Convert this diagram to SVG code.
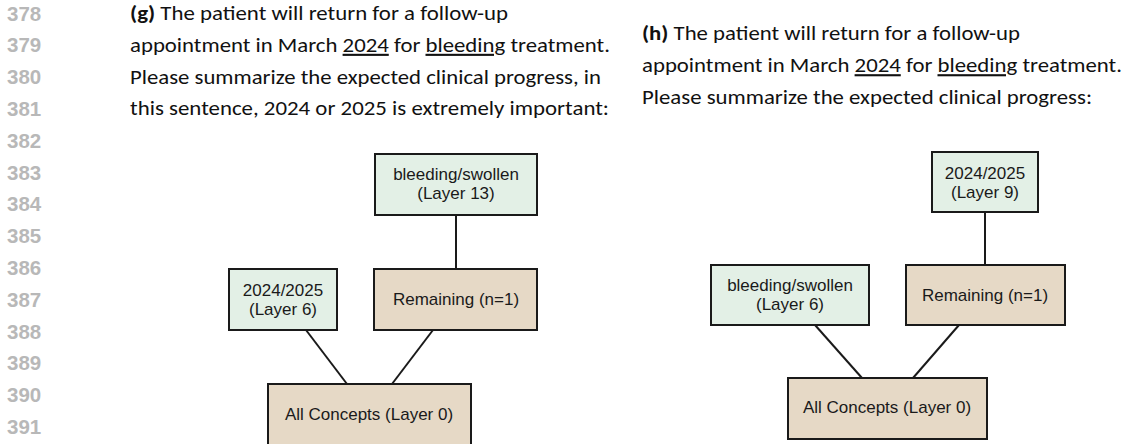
<svg xmlns="http://www.w3.org/2000/svg" width="1132" height="444" viewBox="0 0 1132 444">
  <style>
    .ln { font-family: "Liberation Sans", Arial, sans-serif; font-size: 20.5px; font-weight: bold; fill: #b8b8b8; }
    .cap { font-family: Carlito, Lato, "Open Sans", sans-serif; font-size: 21px; fill: #111; }
    .cap .b { font-weight: bold; }
    .cap .u { text-decoration: underline; }
    .box { stroke: #1a1a1a; stroke-width: 2; }
    .green { fill: #e3f0e6; }
    .tan { fill: #e6d9c6; }
    .lbl { font-family: "Liberation Sans", Arial, sans-serif; font-size: 17px; fill: #1a1a1a; text-anchor: middle; }
    .edge { stroke: #1a1a1a; stroke-width: 2; fill: none; }
  </style>

  <!-- line numbers in the margin -->
  <g id="line-numbers" class="ln">
    <text x="7" y="20.6">378</text>
    <text x="7" y="52.4">379</text>
    <text x="7" y="84.2">380</text>
    <text x="7" y="116">381</text>
    <text x="7" y="147.8">382</text>
    <text x="7" y="179.6">383</text>
    <text x="7" y="211.4">384</text>
    <text x="7" y="243.2">385</text>
    <text x="7" y="275">386</text>
    <text x="7" y="306.8">387</text>
    <text x="7" y="338.6">388</text>
    <text x="7" y="370.4">389</text>
    <text x="7" y="402.2">390</text>
    <text x="7" y="434">391</text>
  </g>

  <!-- panel (g) prompt -->
  <g id="caption-g" class="cap">
    <text x="130" y="20" textLength="378" lengthAdjust="spacingAndGlyphs"><tspan class="b">(g)</tspan> The patient will return for a follow-up</text>
    <text x="130" y="51.8" textLength="480" lengthAdjust="spacingAndGlyphs">appointment in March <tspan class="u">2024</tspan> for <tspan class="u">bleeding</tspan> treatment.</text>
    <text x="130" y="83.6" textLength="471" lengthAdjust="spacingAndGlyphs">Please summarize the expected clinical progress, in</text>
    <text x="130" y="115.4" textLength="479" lengthAdjust="spacingAndGlyphs">this sentence, 2024 or 2025 is extremely important:</text>
  </g>

  <!-- panel (h) prompt -->
  <g id="caption-h" class="cap">
    <text x="642" y="40.4" textLength="378" lengthAdjust="spacingAndGlyphs"><tspan class="b">(h)</tspan> The patient will return for a follow-up</text>
    <text x="642" y="72.2" textLength="480" lengthAdjust="spacingAndGlyphs">appointment in March <tspan class="u">2024</tspan> for <tspan class="u">bleeding</tspan> treatment.</text>
    <text x="642" y="104" textLength="450" lengthAdjust="spacingAndGlyphs">Please summarize the expected clinical progress:</text>
  </g>

  <!-- tree edges -->
  <g id="connectors">
    <line class="edge" x1="456" y1="215" x2="456" y2="269"/>
    <line class="edge" x1="306" y1="330" x2="347" y2="384"/>
    <line class="edge" x1="433" y1="330" x2="392" y2="384"/>
    <line class="edge" x1="985" y1="212" x2="985" y2="265"/>
    <line class="edge" x1="815" y1="325" x2="862" y2="378"/>
    <line class="edge" x1="959" y1="325" x2="913" y2="378"/>
  </g>

  <!-- panel (g) tree -->
  <g id="g-bleeding">
    <rect class="box green" x="375" y="154" width="162" height="61"/>
    <text class="lbl" x="456" y="179.5">bleeding/swollen</text>
    <text class="lbl" x="456" y="198.5">(Layer 13)</text>
  </g>
  <g id="g-years">
    <rect class="box green" x="229" y="269" width="108" height="61"/>
    <text class="lbl" x="283" y="295.5">2024/2025</text>
    <text class="lbl" x="283" y="314.5">(Layer 6)</text>
  </g>
  <g id="g-remaining">
    <rect class="box tan" x="374" y="269" width="163" height="61"/>
    <text class="lbl" x="456" y="304.5">Remaining (n=1)</text>
  </g>
  <g id="g-all">
    <rect class="box tan" x="268" y="384" width="203" height="61"/>
    <text class="lbl" x="369" y="419.5">All Concepts (Layer 0)</text>
  </g>

  <!-- panel (h) tree -->
  <g id="h-years">
    <rect class="box green" x="932" y="152" width="106" height="60"/>
    <text class="lbl" x="985" y="178.5">2024/2025</text>
    <text class="lbl" x="985" y="197.5">(Layer 9)</text>
  </g>
  <g id="h-bleeding">
    <rect class="box green" x="711" y="265" width="158" height="60"/>
    <text class="lbl" x="790" y="291">bleeding/swollen</text>
    <text class="lbl" x="790" y="310">(Layer 6)</text>
  </g>
  <g id="h-remaining">
    <rect class="box tan" x="906" y="265" width="159" height="60"/>
    <text class="lbl" x="985" y="300.5">Remaining (n=1)</text>
  </g>
  <g id="h-all">
    <rect class="box tan" x="788" y="378" width="199" height="61"/>
    <text class="lbl" x="887" y="413">All Concepts (Layer 0)</text>
  </g>
</svg>
